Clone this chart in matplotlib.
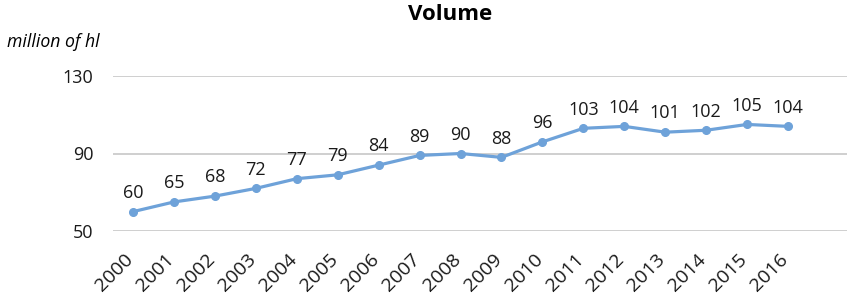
import matplotlib
matplotlib.use("Agg")
import matplotlib.pyplot as plt
from matplotlib.transforms import ScaledTranslation

years = [str(y) for y in range(2000, 2017)]
volume = [60, 65, 68, 72, 77, 79, 84, 89, 90, 88, 96, 103, 104, 101, 102, 105, 104]
yticks = [50, 90, 130]

plt.rcParams['font.family'] = ['Open Sans', 'DejaVu Sans']

fig = plt.figure(figsize=(8.47, 3.04), dpi=100)
ax = fig.add_axes([113/847, 1-231/304, 1-113/847, (231-76)/304])

x = list(range(len(years)))
ax.plot(x, volume, color='#6ea2d9', linewidth=2.3, marker='o', markersize=5.5, clip_on=False, zorder=3)
for xi, v in zip(x, volume):
    ax.annotate(str(v), (xi, v), xytext=(0, 7), textcoords='offset points',
                ha='center', va='bottom', fontsize=13, color='#1a1a1a')

ax.set_xlim(-0.49, 17.44)
ax.set_ylim(50, 130)
ax.set_yticks(yticks)
ax.set_yticklabels([str(t) for t in yticks], fontsize=13, color='#1a1a1a')
ax.set_xticks(x)
ax.set_xticklabels(years, rotation=45, ha='right', va='top', rotation_mode='anchor', fontsize=14, color='#1a1a1a')
ax.tick_params(axis='both', length=0)
ax.tick_params(axis='y', pad=14)
ax.tick_params(axis='x', pad=0)
off = ScaledTranslation(-9/100, -19/100, fig.dpi_scale_trans)
for lab in ax.get_xticklabels():
    lab.set_transform(lab.get_transform() + off)
ax.grid(axis='y', color='#cccccc', linewidth=1.3)
ax.set_axisbelow(True)
for s in ax.spines.values():
    s.set_visible(False)

fig.text(450/847, 1-15/304, 'Volume', ha='center', va='center', fontsize=16, fontweight='bold')
fig.text(7/847, 1-42/304, 'million of hl', ha='left', va='center', fontsize=12.7, style='italic')

fig.savefig('out.png', dpi=100)
